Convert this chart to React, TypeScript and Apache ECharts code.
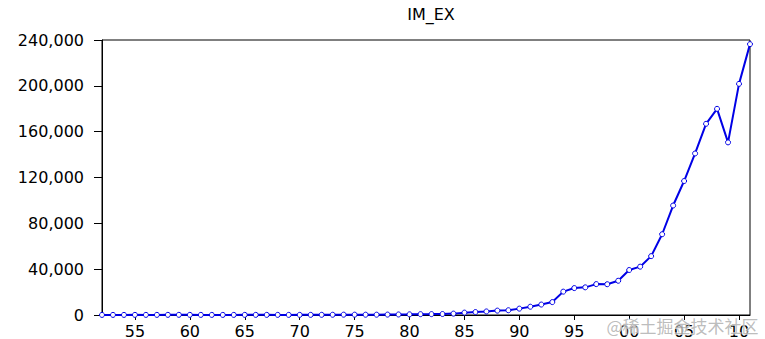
import React, { useEffect, useRef } from "react";
import * as echarts from "echarts";

const years: number[] = [
  1952, 1953, 1954, 1955, 1956, 1957, 1958, 1959, 1960, 1961,
  1962, 1963, 1964, 1965, 1966, 1967, 1968, 1969, 1970, 1971,
  1972, 1973, 1974, 1975, 1976, 1977, 1978, 1979, 1980, 1981,
  1982, 1983, 1984, 1985, 1986, 1987, 1988, 1989, 1990, 1991,
  1992, 1993, 1994, 1995, 1996, 1997, 1998, 1999, 2000, 2001,
  2002, 2003, 2004, 2005, 2006, 2007, 2008, 2009, 2010, 2011,
];

const imEx: number[] = [
  64.6, 80.9, 84.7, 109.8, 108.7, 104.5, 128.7, 149.3, 128.4, 90.7,
  80.9, 85.7, 97.5, 118.4, 127.1, 112.2, 108.5, 107.0, 112.9, 120.2,
  146.9, 220.2, 292.2, 290.4, 264.1, 272.5, 355.0, 454.6, 570.0, 735.3,
  771.3, 860.1, 1201.0, 2066.7, 2580.4, 3084.2, 3821.8, 4155.9, 5560.1, 7225.8,
  9119.6, 11271.0, 20381.9, 23499.9, 24133.8, 26967.2, 26849.7, 29896.2, 39273.2, 42183.6,
  51378.2, 70483.5, 95539.1, 116921.8, 140974.0, 166863.7, 179921.5, 150648.1, 201722.1, 236402.0,
];

const titleText = "IM_EX";
const watermark = "@稀土掘金技术社区";

export default function App() {
  const ref = useRef<HTMLDivElement>(null);
  useEffect(() => {
    document.body.style.margin = "0";
    if (!ref.current) return;
    const chart = echarts.init(ref.current, undefined, { renderer: "svg" });
    const font = "DejaVu Sans";
    chart.setOption({
      animation: false,
      backgroundColor: "#ffffff",
      title: {
        text: titleText,
        left: 426,
        textAlign: "center",
        top: 1,
        textStyle: { fontFamily: font, fontSize: 16, fontWeight: "normal", color: "#000" },
      },
      grid: {
        left: 102,
        right: 15,
        top: 40,
        bottom: 23,
        show: true,
        borderColor: "#000",
        borderWidth: 1,
        backgroundColor: "transparent",
      },
      xAxis: {
        type: "category",
        data: years.map(String),
        boundaryGap: false,
        axisLine: { show: true, lineStyle: { color: "#000", width: 1 } },
        axisTick: {
          show: true,
          length: 5,
          lineStyle: { color: "#000" },
          interval: (_i: number, v: string) => Number(v) % 5 === 0,
        },
        axisLabel: {
          interval: (_i: number, v: string) => Number(v) % 5 === 0,
          formatter: (v: string) => v.slice(2),
          fontFamily: font,
          fontSize: 16,
          color: "#000",
          margin: 8,
        },
        splitLine: { show: false },
      },
      yAxis: {
        type: "value",
        min: 0,
        max: 240000,
        interval: 40000,
        axisLine: { show: true, lineStyle: { color: "#000", width: 1 } },
        axisTick: { show: true, length: 8, lineStyle: { color: "#000" } },
        axisLabel: {
          formatter: (v: number) => v.toLocaleString("en-US"),
          fontFamily: font,
          fontSize: 16,
          color: "#000",
          margin: 18,
        },
        splitLine: { show: false },
      },
      series: [
        {
          type: "line",
          data: imEx,
          symbol: "circle",
          symbolSize: 5,
          showSymbol: true,
          lineStyle: { color: "#0000e6", width: 2 },
          itemStyle: { color: "#ffffff", borderColor: "#0000e6", borderWidth: 1 },
        },
      ],
      graphic: [
        {
          type: "text",
          right: 6,
          bottom: 5,
          style: {
            text: watermark,
            fontFamily: "Noto Sans CJK SC",
            fontSize: 17,
            fill: "rgba(160,160,160,0.7)",
            stroke: "rgba(255,255,255,0.8)",
            lineWidth: 1,
          },
          z: 100,
        },
      ],
    });
    return () => chart.dispose();
  }, []);
  return <div ref={ref} style={{ width: 765, height: 339 }} />;
}
